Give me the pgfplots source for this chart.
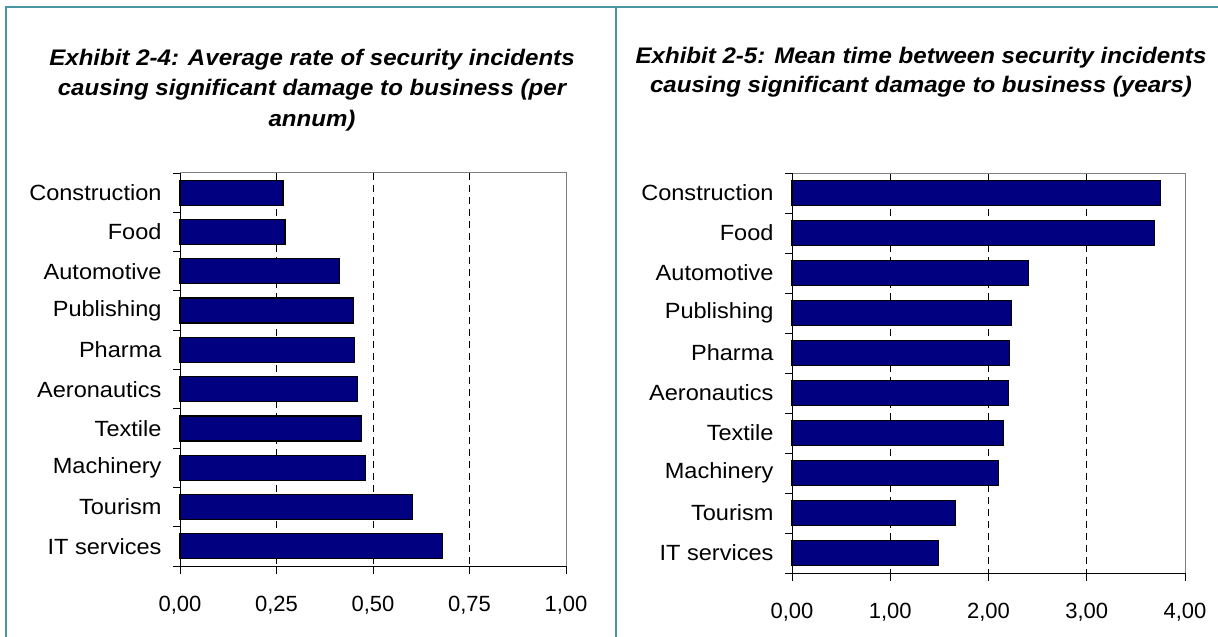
\documentclass[border=0pt]{standalone}
\usepackage{pgfplots}
\usepackage{pgfplotstable}
\pgfplotsset{compat=1.18}
\usepackage{fontspec}
\setmainfont{Liberation Sans}
\newfontfamily\widefont[FakeStretch=1.07]{Liberation Sans}

\definecolor{framecol}{RGB}{74,150,160}
\definecolor{barnavy}{RGB}{0,0,128}
\definecolor{boxgray}{RGB}{128,128,128}

% Average rate of incidents per annum, by industry (top to bottom)
\pgfplotstableread{
idx rate
0 0.267
1 0.272
2 0.414
3 0.449
4 0.453
5 0.459
6 0.470
7 0.480
8 0.602
9 0.681
}\ratetable

% Mean time between incidents in years, same order
\pgfplotstableread{
idx years
0 3.75
1 3.69
2 2.41
3 2.23
4 2.21
5 2.20
6 2.15
7 2.10
8 1.66
9 1.49
}\yearstable

\pgfplotsset{
  industrybars/.style={
    scale only axis,
    xbar,
    bar width=25pt,
    ymin=-0.5, ymax=9.5,
    y dir=reverse,
    ytick={0,...,9},
    yticklabels={Construction,Food,Automotive,Publishing,Pharma,Aeronautics,Textile,Machinery,Tourism,IT services},
    minor ytick={-0.5,0.5,...,9.5},
    major y tick style={draw=none},
    minor y tick style={black,line width=0.8pt},
    minor tick length=7pt,
    major tick length=8pt,
    tick align=outside,
    tick pos=left,
    xtick style={black,line width=0.8pt},
    axis line style={draw=none},
    xticklabel style={font=\fontsize{22}{26}\selectfont,yshift=-19pt,
      /pgf/number format/.cd,fixed,fixed zerofill,precision=2,use comma,assume math mode=true},
    yticklabel style={font=\widefont\fontsize{22}{26}\selectfont,xshift=-7pt},
    extra x tick style={grid=major,tick style={draw=none},
      major grid style={black,line width=0.7pt,dash pattern=on 7pt off 5pt}},
    extra x tick labels={},
    clip=false,
  },
}

\begin{document}
\begin{tikzpicture}[x=1pt,y=1pt]
\path[use as bounding box] (0,0) rectangle (1218,637);

% panel frame
\draw[framecol,line width=2.2pt] (6,0) -- (6,630) -- (1218,630);
\draw[framecol,line width=2.2pt] (616,0) -- (616,630);

% titles
\node[align=center,font=\widefont\fontsize{22.5}{30.5}\selectfont\bfseries\itshape] at (312,547)
  {Exhibit 2-4: Average rate of security incidents\\causing significant damage to business (per\\annum)};
\node[align=center,font=\widefont\fontsize{22.5}{29}\selectfont\bfseries\itshape] at (921,565)
  {Exhibit 2-5: Mean time between security incidents\\causing significant damage to business (years)};

% left chart
\begin{axis}[industrybars,
  at={(180pt,71pt)}, anchor=south west,
  width=386pt, height=393pt,
  xmin=0, xmax=1,
  xtick={0,0.25,0.5,0.75,1},
  extra x ticks={0.25,0.5,0.75},
]
\addplot[fill=barnavy,draw=black,line width=1.2pt] table[x=rate,y=idx] {\ratetable};
\draw[boxgray,line width=1pt] (rel axis cs:0,1) -- (rel axis cs:1,1) -- (rel axis cs:1,0);
\draw[black,line width=1pt] (rel axis cs:0,1) -- (rel axis cs:0,0) -- (rel axis cs:1,0);
\end{axis}

% right chart
\begin{axis}[industrybars,
  at={(792pt,64pt)}, anchor=south west,
  width=393pt, height=400pt,
  xmin=0, xmax=4,
  xtick={0,1,2,3,4},
  extra x ticks={1,2,3},
]
\addplot[fill=barnavy,draw=black,line width=1.2pt] table[x=years,y=idx] {\yearstable};
\draw[boxgray,line width=1pt] (rel axis cs:0,1) -- (rel axis cs:1,1) -- (rel axis cs:1,0);
\draw[black,line width=1pt] (rel axis cs:0,1) -- (rel axis cs:0,0) -- (rel axis cs:1,0);
\end{axis}
\end{tikzpicture}
\end{document}
